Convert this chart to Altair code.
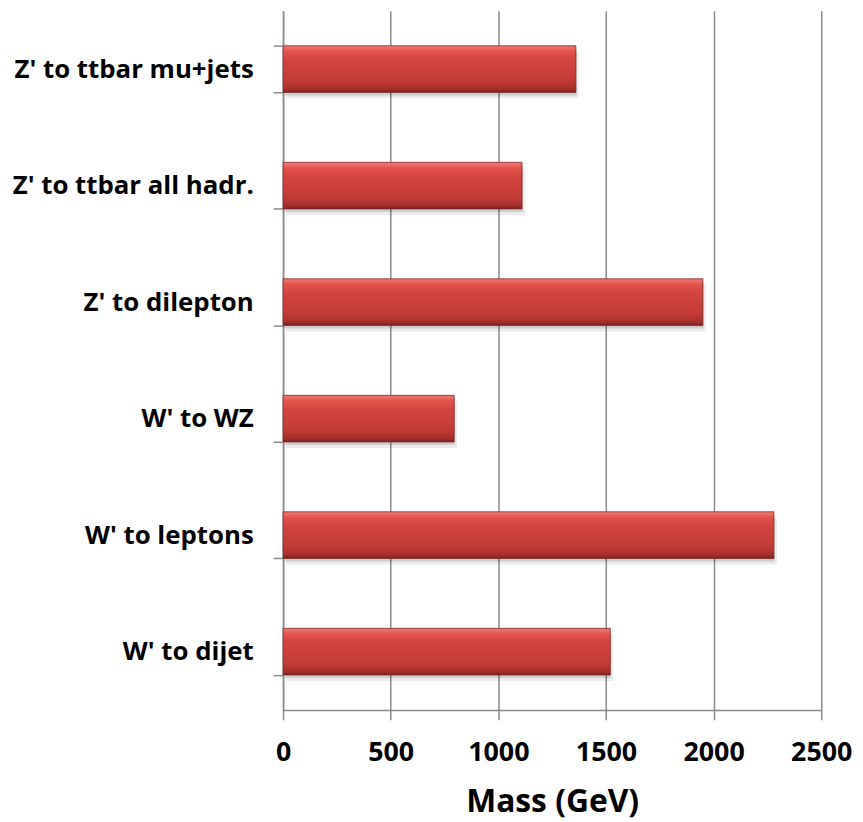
import altair as alt
import pandas as pd

categories = [
    "Z' to ttbar mu+jets",
    "Z' to ttbar all hadr.",
    "Z' to dilepton",
    "W' to WZ\u00a0",
    "W' to leptons",
    "W' to dijet",
]
masses = [1360, 1110, 1950, 795, 2280, 1520]
x_ticks = [0, 500, 1000, 1500, 2000, 2500]

df = pd.DataFrame({"channel": categories, "mass": masses})

GRAY = "#8a8a8a"
FONT = "Open Sans"

y_enc = alt.Y(
    "channel:N",
    sort=categories,
    scale=alt.Scale(paddingInner=0.6, paddingOuter=0.3),
    axis=alt.Axis(
        title=None,
        tickBand="extent",
        tickSize=10,
        labelPadding=20,
        labelLimit=500,
        labelFontSize=26,
        grid=False,
    ),
)
x_enc = alt.X(
    "mass:Q",
    scale=alt.Scale(domain=[0, 2500], nice=False, zero=True),
    axis=alt.Axis(
        values=x_ticks,
        format="d",
        title="Mass (GeV)",
        grid=True,
        tickSize=10,
        labelPadding=20,
        labelFontSize=27,
        labelFlush=False,
        labelOverlap=False,
        labelBound=False,
        titleY=102,
        titleBaseline="alphabetic",
    ),
)

base = alt.Chart(df).encode(x=x_enc, y=y_enc)

shadow1 = base.mark_bar(color="#000000", opacity=0.08, xOffset=3, yOffset=6)
shadow2 = base.mark_bar(color="#000000", opacity=0.12, xOffset=1, yOffset=3)

grad = alt.Gradient(
    gradient="linear",
    stops=[
        alt.GradientStop(color="#f27c74", offset=0),
        alt.GradientStop(color="#e2544c", offset=0.12),
        alt.GradientStop(color="#d3443f", offset=0.3),
        alt.GradientStop(color="#c33b37", offset=0.75),
        alt.GradientStop(color="#a62f2c", offset=0.92),
        alt.GradientStop(color="#7a2220", offset=1),
    ],
    x1=0, x2=0, y1=0, y2=1,
)
bars = base.mark_bar(color=grad, stroke="#7a2624", strokeWidth=0.8)

chart = (
    alt.layer(shadow1, shadow2, bars)
    .properties(
        width=542,
        height=704,
        autosize="none",
        padding={"left": 277, "top": 0, "right": 34, "bottom": 108},
    )
    .configure_view(stroke=None)
    .configure_axis(
        domainColor=GRAY,
        domainWidth=1.5,
        tickColor=GRAY,
        tickWidth=1.5,
        gridColor=GRAY,
        gridWidth=1.5,
        labelFont=FONT,
        labelFontWeight="bold",
        labelColor="#000000",
        titleFont=FONT,
        titleFontWeight="bold",
        titleFontSize=32,
        titleColor="#000000",
    )
)

chart.save("out.html", embed_options={"renderer": "svg", "actions": False})
